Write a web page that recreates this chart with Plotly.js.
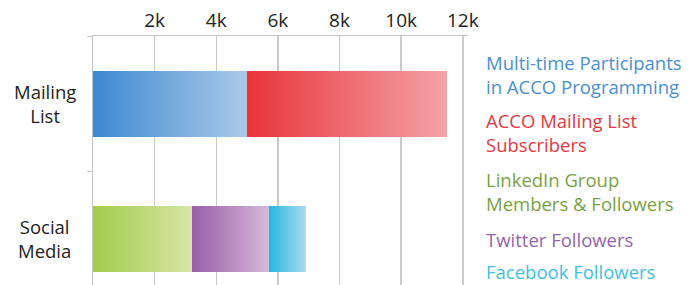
<!DOCTYPE html>
<html>
<head>
<meta charset="utf-8">
<script src="https://cdn.plot.ly/plotly-3.0.1.min.js"></script>
<style>
  html, body { margin: 0; padding: 0; background: #fff; }
  #chart { width: 698px; height: 285px; }
</style>
</head>
<body>
<div id="chart"></div>
<script>
// ---- data ----
const categories = ['Mailing List', 'Social Media'];
const seriesNames = [
  'Multi-time Participants<br>in ACCO Programming',
  'ACCO Mailing List<br>Subscribers',
  'LinkedIn Group<br>Members & Followers',
  'Twitter Followers',
  'Facebook Followers'
];
const multiTimeParticipants = [5000, null];
const mailingListSubscribers = [6500, null];
const linkedInFollowers = [null, 3200];
const twitterFollowers = [null, 2500];
const facebookFollowers = [null, 1200];
const tickValues = [2000, 4000, 6000, 8000, 10000, 12000];
const tickLabels = ['2k', '4k', '6k', '8k', '10k', '12k'];

// ---- styles ----
const seriesValues = [multiTimeParticipants, mailingListSubscribers, linkedInFollowers, twitterFollowers, facebookFollowers];
const gradStart = ['#3d88d1', '#e8343a', '#a3cb4c', '#9a5ea8', '#25b6dc'];
const gradEnd   = ['#abcae9', '#f5a3a7', '#d7e7a6', '#d5b8d8', '#a8dcf0'];
const textColors = ['#4a90d2', '#e9383f', '#7ba143', '#9464ad', '#3ec2e2'];
const legendY = [0.8434, 0.6124, 0.3755, 0.1847, 0.0562];
const FONT = '"Open Sans", "DejaVu Sans", sans-serif';

const traces = seriesValues.map((vals, i) => ({
  type: 'bar',
  orientation: 'h',
  name: seriesNames[i],
  y: categories,
  x: vals,
  marker: { color: gradStart[i], line: { width: 0 } },
  hoverinfo: 'x+name'
}));

const annotations = [];
categories.forEach(c => {
  annotations.push({
    xref: 'paper', yref: 'y', x: -0.129, y: c,
    xanchor: 'center', yanchor: 'middle', align: 'center',
    text: c.replace(' ', '<br>'), showarrow: false,
    font: { family: FONT, size: 18.5, color: '#222222' }
  });
});
seriesNames.forEach((n, i) => {
  annotations.push({
    xref: 'paper', yref: 'paper', x: 1.0427, y: legendY[i],
    xanchor: 'left', yanchor: 'middle', align: 'left',
    text: n, showarrow: false,
    font: { family: FONT, size: 18.5, color: textColors[i] }
  });
});

const layout = {
  width: 698, height: 285,
  margin: { l: 93, r: 230, t: 36, b: 0, pad: 0 },
  paper_bgcolor: '#ffffff', plot_bgcolor: '#ffffff',
  barmode: 'stack',
  bargap: 0.511,
  showlegend: false,
  font: { family: FONT, color: '#222222' },
  xaxis: {
    side: 'top',
    range: [0, 12170],
    tickvals: tickValues,
    ticktext: tickLabels,
    tickfont: { family: FONT, size: 19, color: '#222222' },
    showgrid: true, gridcolor: '#c9c9c9', gridwidth: 1.5,
    showline: true, linecolor: '#c4c4c4', linewidth: 1.5,
    zeroline: false, ticks: '', fixedrange: true
  },
  yaxis: {
    type: 'category',
    categoryorder: 'array', categoryarray: categories,
    range: [1.344, -0.5],
    showticklabels: false,
    showgrid: false, zeroline: false,
    showline: true, linecolor: '#c4c4c4', linewidth: 1.5,
    ticks: 'outside', tickson: 'boundaries', ticklen: 5, tickcolor: '#c4c4c4',
    fixedrange: true
  },
  annotations: annotations
};

const gd = document.getElementById('chart');
Plotly.newPlot(gd, traces, layout, { displayModeBar: false, staticPlot: true }).then(() => {
  const svg = gd.querySelector('.main-svg');
  const NS = 'http://www.w3.org/2000/svg';
  let defs = svg.querySelector('defs');
  if (!defs) { defs = document.createElementNS(NS, 'defs'); svg.insertBefore(defs, svg.firstChild); }
  gradStart.forEach((c, i) => {
    const lg = document.createElementNS(NS, 'linearGradient');
    lg.setAttribute('id', 'barGrad' + i);
    lg.setAttribute('x1', '0'); lg.setAttribute('y1', '0');
    lg.setAttribute('x2', '1'); lg.setAttribute('y2', '0');
    const s1 = document.createElementNS(NS, 'stop');
    s1.setAttribute('offset', '0'); s1.setAttribute('stop-color', c);
    const s2 = document.createElementNS(NS, 'stop');
    s2.setAttribute('offset', '1'); s2.setAttribute('stop-color', gradEnd[i]);
    lg.appendChild(s1); lg.appendChild(s2);
    defs.appendChild(lg);
  });
  const groups = gd.querySelectorAll('.barlayer .trace');
  groups.forEach((g, i) => {
    g.querySelectorAll('path').forEach(p => {
      p.style.fill = 'url(#barGrad' + i + ')';
      p.style.fillOpacity = '1';
    });
  });
});
</script>
</body>
</html>
